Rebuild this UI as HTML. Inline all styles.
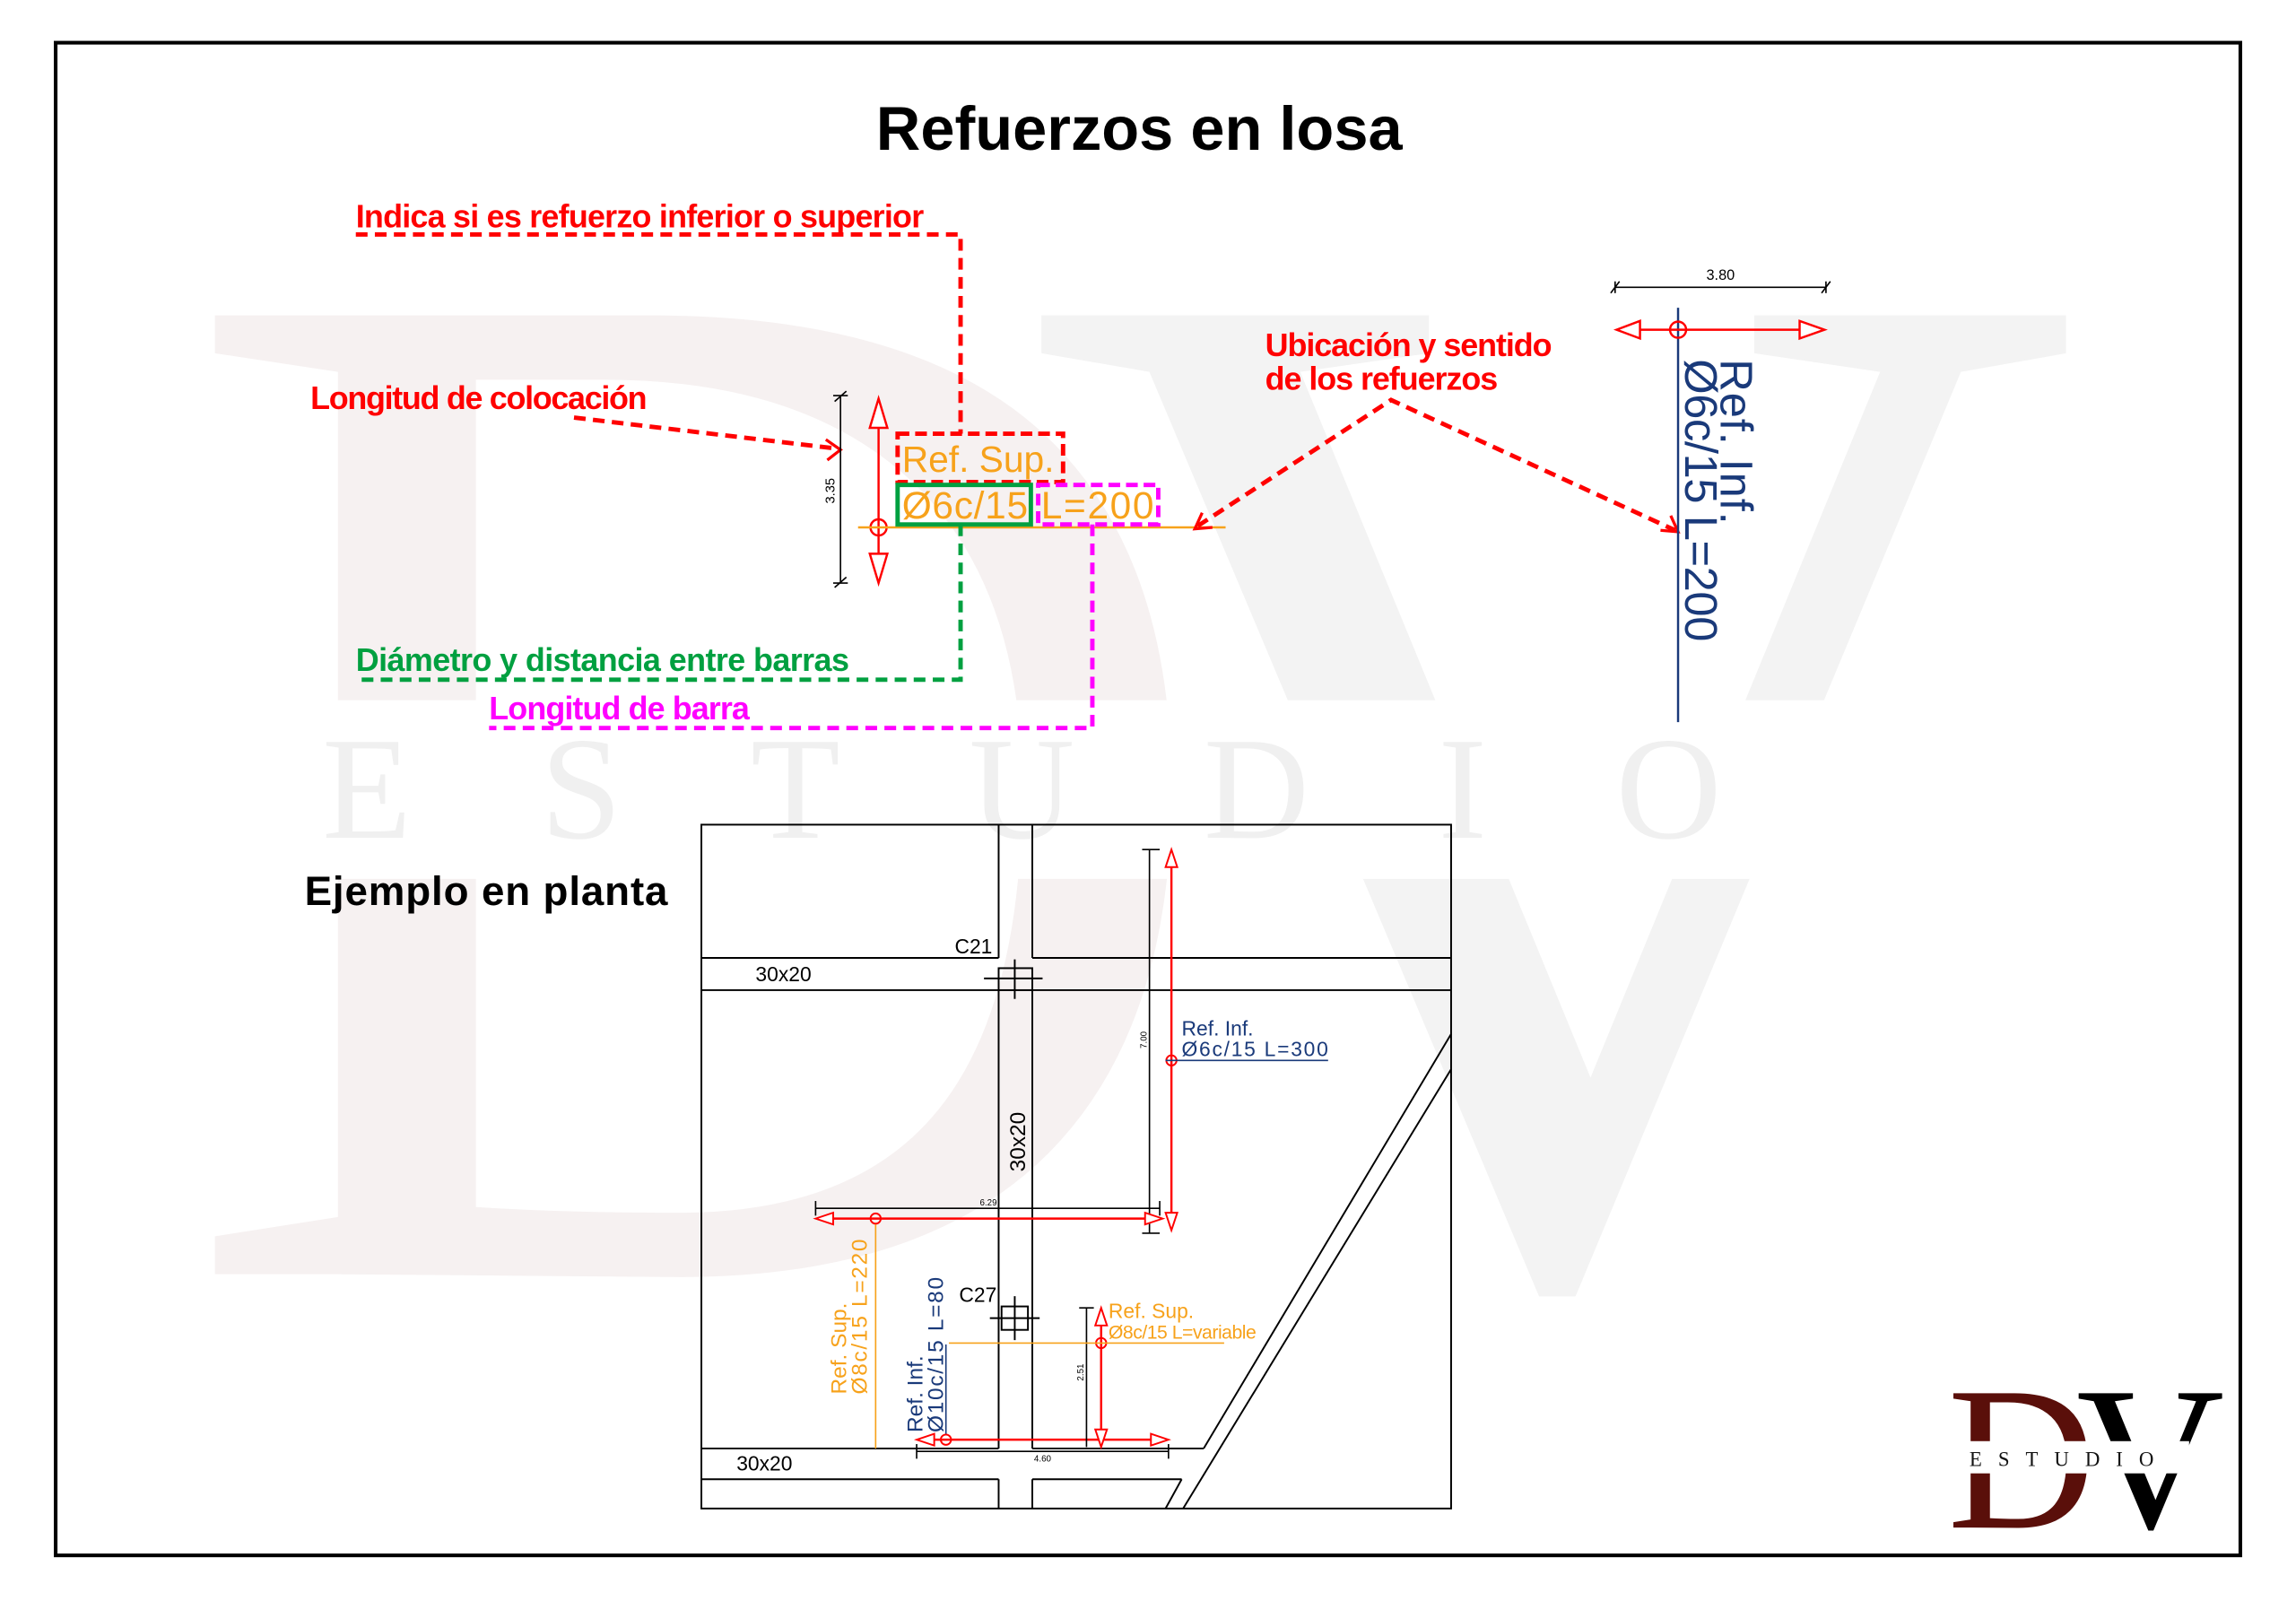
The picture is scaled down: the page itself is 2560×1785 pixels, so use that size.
<!DOCTYPE html>
<html><head><meta charset="utf-8">
<style>
html,body{margin:0;padding:0;background:#fff;}
svg{display:block;}
text{font-family:"Liberation Sans",sans-serif;}
.lbl{font-family:"Liberation Sans Narrow","Liberation Sans",sans-serif;font-weight:bold;}
.ser{font-family:"Liberation Serif",serif;}
</style></head>
<body>
<svg width="2560" height="1785" viewBox="0 0 1568 1093" xmlns="http://www.w3.org/2000/svg">
<rect width="1568" height="1093" fill="#fff"/>
<!-- watermark -->
<text class="ser" x="118" y="870" font-size="1000" fill="#f6f1f1">D</text>
<text class="ser" x="700" y="870" font-size="1000" fill="#f3f3f3">V</text>
<rect x="110" y="478" width="1360" height="122" fill="#fff"/>
<text class="ser" x="220" y="572" font-size="100" fill="#f0f0f0" letter-spacing="88">ESTUDIO</text>
<!-- border -->
<rect x="38" y="29" width="1492" height="1033" fill="none" stroke="#000" stroke-width="2.5"/>
<text x="778" y="102" font-size="42" font-weight="bold" text-anchor="middle" fill="#000">Refuerzos en losa</text>

<!-- labels -->
<text class="lbl" x="243" y="155" font-size="22" fill="#f00" textLength="388">Indica si es refuerzo inferior o superior</text>
<polyline points="243,160 656,160 656,296" fill="none" stroke="#f00" stroke-width="3" stroke-dasharray="8,5"/>
<text class="lbl" x="212" y="279" font-size="22" fill="#f00" textLength="230">Longitud de colocación</text>
<line x1="392" y1="285" x2="570" y2="306" stroke="#f00" stroke-width="3" stroke-dasharray="8,5"/>
<polyline points="564,300 574,307 565,314" fill="none" stroke="#f00" stroke-width="2"/>

<!-- dim 3.35 -->
<line x1="574" y1="270" x2="574" y2="398" stroke="#000" stroke-width="1"/>
<line x1="570" y1="274" x2="578" y2="267" stroke="#000"/><line x1="570" y1="401" x2="578" y2="394" stroke="#000"/>
<line x1="569" y1="270" x2="579" y2="270" stroke="#000"/><line x1="569" y1="398" x2="579" y2="398" stroke="#000"/>
<text x="570" y="335" font-size="9" text-anchor="middle" transform="rotate(-90 570 335)">3.35</text>
<!-- red arrow -->
<line x1="600" y1="290" x2="600" y2="380" stroke="#f00" stroke-width="1.5"/>
<polygon points="600,272 594,292 606,292" fill="#fff" stroke="#f00" stroke-width="1.5"/>
<polygon points="600,398 594,378 606,378" fill="#fff" stroke="#f00" stroke-width="1.5"/>
<circle cx="600" cy="360" r="5.5" fill="none" stroke="#f00" stroke-width="1.5"/>
<line x1="586" y1="360" x2="837" y2="360" stroke="#f7a21b" stroke-width="1.5"/>
<rect x="613" y="296" width="113" height="33" fill="none" stroke="#f00" stroke-width="3" stroke-dasharray="8,4"/>
<text x="616" y="322" font-size="25" fill="#f7a21b" textLength="104">Ref. Sup.</text>
<rect x="613" y="331" width="91" height="27" fill="none" stroke="#00a040" stroke-width="3"/>
<text x="616" y="354" font-size="26" fill="#f7a21b" textLength="86">Ø6c/15</text>
<rect x="709" y="331" width="82" height="27" fill="none" stroke="#f0f" stroke-width="3" stroke-dasharray="8,4"/>
<text x="711" y="354" font-size="26" fill="#f7a21b" textLength="77">L=200</text>
<polyline points="656,358 656,464 243,464" fill="none" stroke="#00a040" stroke-width="3" stroke-dasharray="8,5"/>
<text class="lbl" x="243" y="458" font-size="22" fill="#00a040" textLength="337">Diámetro y distancia entre barras</text>
<polyline points="746,358 746,497 334,497" fill="none" stroke="#f0f" stroke-width="3" stroke-dasharray="8,5"/>
<text class="lbl" x="334" y="491" font-size="22" fill="#f0f" textLength="178">Longitud de barra</text>

<text class="lbl" x="864" y="243" font-size="22" fill="#f00" textLength="196">Ubicación y sentido</text>
<text class="lbl" x="864" y="266" font-size="22" fill="#f00" textLength="159">de los refuerzos</text>
<polyline points="818,359 950,273 1144,362" fill="none" stroke="#f00" stroke-width="3" stroke-dasharray="8,5"/>
<polyline points="821,350 816,361 828,360" fill="none" stroke="#f00" stroke-width="2"/>
<polyline points="1134,362 1146,363 1141,352" fill="none" stroke="#f00" stroke-width="2"/>

<!-- right detail -->
<line x1="1103" y1="196" x2="1247" y2="196" stroke="#000" stroke-width="1"/>
<line x1="1100" y1="200" x2="1106" y2="192" stroke="#000"/><line x1="1244" y1="200" x2="1250" y2="192" stroke="#000"/>
<line x1="1103" y1="192" x2="1103" y2="200" stroke="#000"/><line x1="1247" y1="192" x2="1247" y2="200" stroke="#000"/>
<text x="1175" y="191" font-size="10" text-anchor="middle">3.80</text>
<line x1="1146" y1="210" x2="1146" y2="493" stroke="#1a3a7a" stroke-width="1.5"/>
<line x1="1120" y1="225" x2="1230" y2="225" stroke="#f00" stroke-width="1.5"/>
<polygon points="1104,225 1120,219 1120,231" fill="#fff" stroke="#f00" stroke-width="1.5"/>
<polygon points="1246,225 1229,219 1229,231" fill="#fff" stroke="#f00" stroke-width="1.5"/>
<circle cx="1146" cy="225" r="5.5" fill="none" stroke="#f00" stroke-width="1.5"/>
<text x="1175" y="245" font-size="31" fill="#1a3a7a" transform="rotate(90 1175 245)" textLength="113">Ref. Inf.</text>
<text x="1151" y="245" font-size="31" fill="#1a3a7a" transform="rotate(90 1151 245)" textLength="193">Ø6c/15 L=200</text>

<text x="208" y="618" font-size="28" font-weight="bold" fill="#000" textLength="248">Ejemplo en planta</text>

<!-- plan -->
<g fill="none" stroke="#000" stroke-width="1.2">
<rect x="479" y="563" width="512" height="467"/>
<line x1="682" y1="563" x2="682" y2="654"/><line x1="705" y1="563" x2="705" y2="654"/>
<line x1="479" y1="654" x2="682" y2="654"/><line x1="705" y1="654" x2="991" y2="654"/>
<line x1="479" y1="676" x2="991" y2="676"/>
<line x1="682" y1="676" x2="682" y2="989"/><line x1="705" y1="676" x2="705" y2="989"/>
<line x1="479" y1="989" x2="682" y2="989"/><line x1="705" y1="989" x2="822" y2="989"/>
<line x1="479" y1="1010" x2="682" y2="1010"/><line x1="705" y1="1010" x2="807" y2="1010"/>
<line x1="682" y1="1010" x2="682" y2="1030"/><line x1="705" y1="1010" x2="705" y2="1030"/>
<line x1="991" y1="706" x2="822" y2="989"/>
<line x1="991" y1="730" x2="808" y2="1030"/>
<line x1="807" y1="1010" x2="796" y2="1030"/>
<rect x="682" y="661" width="23" height="15"/>
<line x1="672" y1="668" x2="712" y2="668"/><line x1="693" y1="655" x2="693" y2="682"/>
<rect x="684" y="892" width="18" height="16"/>
<line x1="676" y1="900" x2="710" y2="900"/><line x1="693" y1="885" x2="693" y2="915"/>
</g>
<text x="652" y="651" font-size="14">C21</text>
<text x="516" y="670" font-size="14">30x20</text>
<text x="700" y="800" font-size="15" transform="rotate(-90 700 800)">30x20</text>
<text x="655" y="889" font-size="14">C27</text>
<text x="503" y="1004" font-size="14">30x20</text>

<!-- vertical rebar top -->
<line x1="785" y1="580" x2="785" y2="842" stroke="#000" stroke-width="1"/>
<line x1="780" y1="580" x2="792" y2="580" stroke="#000"/><line x1="780" y1="842" x2="792" y2="842" stroke="#000"/>
<text x="783" y="710" font-size="6" text-anchor="middle" transform="rotate(-90 783 710)">7.00</text>
<line x1="800" y1="590" x2="800" y2="830" stroke="#f00" stroke-width="1.5"/>
<polygon points="800,580 796,592 804,592" fill="#fff" stroke="#f00" stroke-width="1.2"/>
<polygon points="800,840 796,828 804,828" fill="#fff" stroke="#f00" stroke-width="1.2"/>
<circle cx="800" cy="724" r="3.5" fill="none" stroke="#f00" stroke-width="1.2"/>
<line x1="796" y1="724" x2="907" y2="724" stroke="#1a3a7a" stroke-width="1"/>
<text x="807" y="707" font-size="14" fill="#1a3a7a">Ref. Inf.</text>
<text x="807" y="721" font-size="14" fill="#1a3a7a" textLength="100">Ø6c/15 L=300</text>

<!-- horizontal rebar mid -->
<line x1="557" y1="825" x2="792" y2="825" stroke="#000" stroke-width="1"/>
<line x1="557" y1="820" x2="557" y2="830" stroke="#000"/><line x1="792" y1="820" x2="792" y2="830" stroke="#000"/>
<text x="675" y="823" font-size="6" text-anchor="middle">6.29</text>
<line x1="567" y1="832" x2="784" y2="832" stroke="#f00" stroke-width="1.5"/>
<polygon points="557,832 569,828 569,836" fill="#fff" stroke="#f00" stroke-width="1.2"/>
<polygon points="794,832 782,828 782,836" fill="#fff" stroke="#f00" stroke-width="1.2"/>
<circle cx="598" cy="832" r="3.5" fill="none" stroke="#f00" stroke-width="1.2"/>
<line x1="598" y1="836" x2="598" y2="989" stroke="#f7a21b" stroke-width="1"/>
<text x="578" y="952" font-size="15" fill="#f7a21b" transform="rotate(-90 578 952)">Ref. Sup.</text>
<text x="592" y="952" font-size="15" fill="#f7a21b" transform="rotate(-90 592 952)" textLength="106">Ø8c/15 L=220</text>

<!-- bottom rebars -->
<text x="630" y="978" font-size="15" fill="#1a3a7a" transform="rotate(-90 630 978)">Ref. Inf.</text>
<text x="644" y="978" font-size="15" fill="#1a3a7a" transform="rotate(-90 644 978)" textLength="106">Ø10c/15 L=80</text>
<line x1="646" y1="918" x2="646" y2="980" stroke="#1a3a7a" stroke-width="1"/>
<line x1="626" y1="991" x2="798" y2="991" stroke="#000" stroke-width="1"/>
<line x1="626" y1="986" x2="626" y2="996" stroke="#000"/><line x1="798" y1="986" x2="798" y2="996" stroke="#000"/>
<text x="712" y="998" font-size="6" text-anchor="middle">4.60</text>
<line x1="636" y1="983" x2="788" y2="983" stroke="#f00" stroke-width="1.5"/>
<polygon points="626,983 638,979 638,987" fill="#fff" stroke="#f00" stroke-width="1.2"/>
<polygon points="798,983 786,979 786,987" fill="#fff" stroke="#f00" stroke-width="1.2"/>
<circle cx="646" cy="983" r="3.5" fill="none" stroke="#f00" stroke-width="1.2"/>
<line x1="742" y1="893" x2="742" y2="988" stroke="#000" stroke-width="1"/>
<line x1="737" y1="893" x2="747" y2="893" stroke="#000"/>
<text x="740" y="937" font-size="6" text-anchor="middle" transform="rotate(-90 740 937)">2.51</text>
<line x1="752" y1="903" x2="752" y2="978" stroke="#f00" stroke-width="1.5"/>
<polygon points="752,893 748,905 756,905" fill="#fff" stroke="#f00" stroke-width="1.2"/>
<polygon points="752,988 748,976 756,976" fill="#fff" stroke="#f00" stroke-width="1.2"/>
<circle cx="752" cy="917" r="3.5" fill="none" stroke="#f00" stroke-width="1.2"/>
<line x1="648" y1="917" x2="836" y2="917" stroke="#f7a21b" stroke-width="1"/>
<text x="757" y="900" font-size="14" fill="#f7a21b">Ref. Sup.</text>
<text x="757" y="914" font-size="13" fill="#f7a21b" textLength="101">Ø8c/15 L=variable</text>

<!-- logo -->
<text class="ser" x="1330" y="1043" font-size="140" fill="#5a0f0a">D</text>
<text class="ser" x="1418" y="1043" font-size="140" fill="#000">V</text>
<rect x="1340" y="984" width="155" height="22" fill="#fff"/>
<text class="ser" x="1345" y="1001" font-size="14" fill="#111" letter-spacing="11">ESTUDIO</text>
</svg>
</body></html>
